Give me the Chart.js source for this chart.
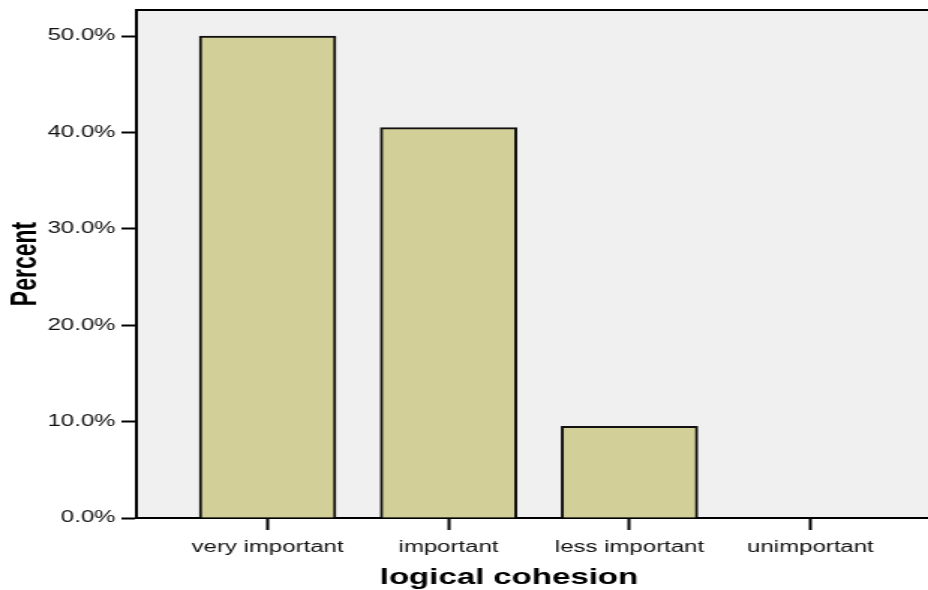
<!DOCTYPE html>
<html>
<head>
<meta charset="utf-8">
<script src="https://cdn.jsdelivr.net/npm/chart.js@4/dist/chart.umd.min.js"></script>
<style>
  html, body { margin: 0; padding: 0; background: #ffffff; overflow: hidden; }
  /* the original graphic is stretched sideways by about 1.5x, so draw narrow and widen */
  #wrap { width: 619px; height: 590px; position: relative; transform: scaleX(1.4992); transform-origin: 0 0; }
</style>
</head>
<body>
<div id="wrap"><canvas id="cohesionChart"></canvas></div>
<script>
// Chart data
const categories = ['very important', 'important', 'less important', 'unimportant'];
const percents = [50.0, 40.5, 9.5, 0.0];
const yTicks = [0, 10, 20, 30, 40, 50];

const fontFamily = '"Liberation Sans", Arial, sans-serif';

// Grey plot panel, top frame and the end of the x axis line
const panelPlugin = {
    id: 'panel',
    beforeDraw(chart) {
        const { ctx, chartArea, width } = chart;
        ctx.save();
        ctx.fillStyle = '#f0f0f0';
        ctx.fillRect(chartArea.left, chartArea.top, width - chartArea.left, chartArea.bottom - chartArea.top);
        ctx.strokeStyle = '#000';
        ctx.lineWidth = 2;
        ctx.beginPath();
        ctx.moveTo(chartArea.left, chartArea.top);
        ctx.lineTo(width, chartArea.top);
        ctx.moveTo(chartArea.right, chartArea.bottom);
        ctx.lineTo(width, chartArea.bottom);
        ctx.stroke();
        ctx.restore();
    }
};

const points = categories.map((c, i) => ({ x: i, y: percents[i] }));

new Chart(document.getElementById('cohesionChart'), {
    type: 'bar',
    data: {
        datasets: [{
            label: 'Percent',
            data: points,
            backgroundColor: '#d3cf98',
            borderColor: '#111',
            borderWidth: 2,
            borderSkipped: 'bottom',
            barThickness: 91
        }]
    },
    options: {
        responsive: true,
        maintainAspectRatio: false,
        animation: false,
        layout: { padding: { top: 10, right: 31, left: 0, bottom: 0 } },
        scales: {
            x: {
                type: 'linear',
                offset: false,
                min: -0.725,
                max: 3.393,
                afterBuildTicks(scale) {
                    scale.ticks = categories.map((c, i) => ({ value: i }));
                },
                afterFit(scale) {
                    scale.height = 72;
                    scale.paddingLeft = 0;
                    scale.paddingRight = 0;
                },
                ticks: {
                    callback: (v) => categories[v],
                    color: '#111',
                    font: { family: fontFamily, size: 16 },
                    padding: 8,
                    maxRotation: 0,
                    autoSkip: false
                },
                grid: {
                    offset: false,
                    drawOnChartArea: false,
                    tickLength: 12,
                    tickWidth: 2,
                    tickColor: '#000'
                },
                border: { display: true, color: '#000', width: 2 },
                title: {
                    display: true,
                    text: 'logical cohesion',
                    color: '#000',
                    font: { family: fontFamily, size: 22, weight: 'bold', lineHeight: 1.0 },
                    padding: { top: 0, bottom: 1 }
                }
            },
            y: {
                min: 0,
                max: 52.7,
                afterBuildTicks(scale) {
                    scale.ticks = yTicks.map(v => ({ value: v }));
                },
                afterFit(scale) {
                    scale.width = 91;
                    scale.paddingTop = 0;
                    scale.paddingBottom = 0;
                },
                ticks: {
                    callback: (v) => v.toFixed(1) + '%',
                    color: '#111',
                    font: { family: fontFamily, size: 16 },
                    padding: 4
                },
                grid: {
                    drawOnChartArea: false,
                    tickLength: 10,
                    tickWidth: 2,
                    tickColor: '#000'
                },
                border: { display: true, color: '#000', width: 2 },
                title: {
                    display: true,
                    text: 'Percent',
                    color: '#000',
                    font: { family: '"Liberation Sans Narrow", "Liberation Sans", Arial, sans-serif', size: 23, weight: 'bold' },
                    padding: { top: 4, bottom: 0 }
                }
            }
        },
        plugins: {
            legend: { display: false },
            tooltip: { enabled: false }
        }
    },
    plugins: [panelPlugin]
});
</script>
</body>
</html>
